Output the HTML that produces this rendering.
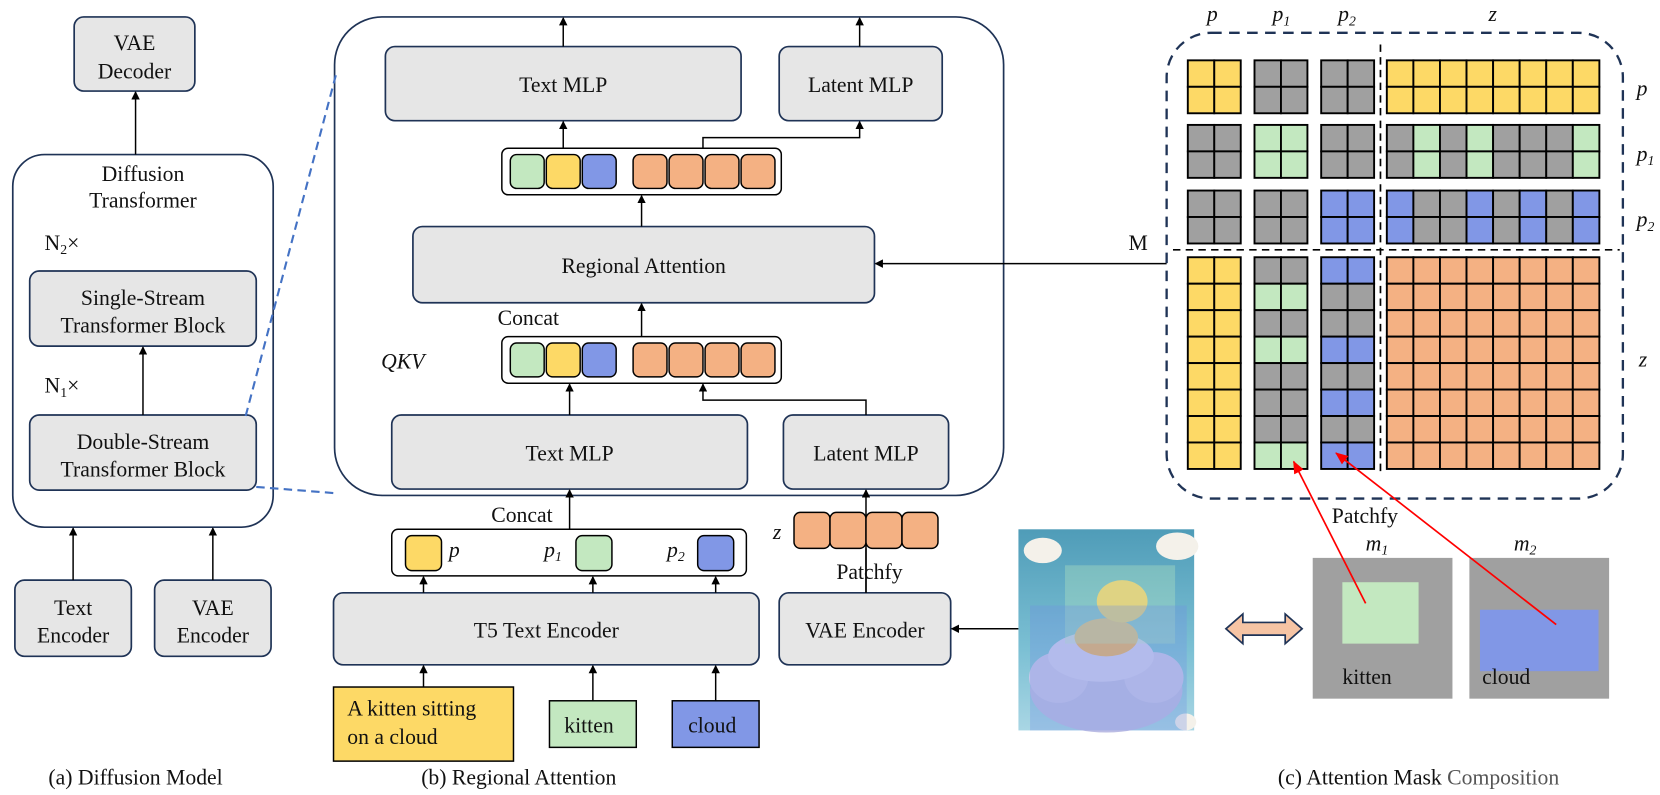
<!DOCTYPE html>
<html><head><meta charset="utf-8"><style>
html,body{margin:0;padding:0;background:#fff;}
svg{display:block;}
text{font-family:"Liberation Serif",serif;fill:#111;}
.i{font-style:italic;}
</style></head><body>
<svg width="1660" height="795" viewBox="0 0 1568 751" xmlns="http://www.w3.org/2000/svg">
<defs>
<marker id="ar" markerWidth="8" markerHeight="8" refX="7" refY="4" orient="auto" markerUnits="userSpaceOnUse"><path d="M0,0 L8,4 L0,8 Z" fill="#000"/></marker>
<marker id="rr" markerWidth="12" markerHeight="10" refX="11" refY="5" orient="auto" markerUnits="userSpaceOnUse"><path d="M0,0 L12,5 L0,10 Z" fill="#f00"/></marker>
<linearGradient id="sky" x1="0" y1="0" x2="0" y2="1"><stop offset="0" stop-color="#4f9cb8"/><stop offset="0.6" stop-color="#7cc0d4"/><stop offset="1" stop-color="#a9d6e4"/></linearGradient>
</defs>
<g stroke="#1f3356" stroke-width="1.6" fill="#e6e6e6">
<rect x="70" y="16" width="114" height="70" rx="9"/>
<rect x="12" y="146" width="246" height="352" rx="30" fill="#fff"/>
<rect x="28" y="256" width="214" height="71" rx="9"/>
<rect x="28" y="392" width="214" height="71" rx="9"/>
<rect x="14" y="548" width="110" height="72" rx="9"/>
<rect x="146" y="548" width="110" height="72" rx="9"/>
<rect x="316" y="16" width="632" height="452" rx="45" fill="#fff"/>
<rect x="364" y="44" width="336" height="70" rx="9"/>
<rect x="736" y="44" width="154" height="70" rx="9"/>
<rect x="390" y="214" width="436" height="72" rx="9"/>
<rect x="370" y="392" width="336" height="70" rx="9"/>
<rect x="740" y="392" width="156" height="70" rx="9"/>
<rect x="315" y="560" width="402" height="68" rx="9"/>
<rect x="736" y="560" width="162" height="68" rx="9"/>
</g>
<g stroke="#000" stroke-width="1.4" fill="none" marker-end="url(#ar)">
<line x1="128" y1="146" x2="128" y2="87"/>
<line x1="135" y1="392" x2="135" y2="328"/>
<line x1="69" y1="548" x2="69" y2="499"/>
<line x1="201" y1="548" x2="201" y2="499"/>
<line x1="532" y1="44" x2="532" y2="17"/>
<line x1="812" y1="44" x2="812" y2="17"/>
<line x1="532" y1="140" x2="532" y2="115"/>
<polyline points="664,140 664,130 812,130 812,115"/>
<line x1="606" y1="214" x2="606" y2="185"/>
<line x1="606" y1="318" x2="606" y2="287"/>
<line x1="538" y1="392" x2="538" y2="363"/>
<polyline points="818,392 818,378 664,378 664,363"/>
<line x1="538" y1="500" x2="538" y2="463"/>
<line x1="818" y1="560" x2="818" y2="463"/>
<line x1="400" y1="560" x2="400" y2="545"/>
<line x1="560" y1="560" x2="560" y2="545"/>
<line x1="676" y1="560" x2="676" y2="545"/>
<line x1="400" y1="649" x2="400" y2="629"/>
<line x1="560" y1="662" x2="560" y2="629"/>
<line x1="676" y1="662" x2="676" y2="629"/>
<line x1="962" y1="594" x2="899" y2="594"/>
<line x1="1102" y1="249" x2="827" y2="249"/>
</g>
<g stroke="#4472c4" stroke-width="2" stroke-dasharray="8,5">
<line x1="242" y1="460" x2="318" y2="466"/>
<line x1="232" y1="393" x2="318" y2="68"/>
</g>
<g stroke="#000" stroke-width="1.4">
<rect x="474" y="140" width="264" height="44" rx="6" fill="#fff"/>
<rect x="482" y="146" width="32" height="32" rx="6" fill="#c3e8c0"/>
<rect x="516" y="146" width="32" height="32" rx="6" fill="#fdd966"/>
<rect x="550" y="146" width="32" height="32" rx="6" fill="#8197e6"/>
<rect x="598" y="146" width="32" height="32" rx="6" fill="#f4b183"/>
<rect x="632" y="146" width="32" height="32" rx="6" fill="#f4b183"/>
<rect x="666" y="146" width="32" height="32" rx="6" fill="#f4b183"/>
<rect x="700" y="146" width="32" height="32" rx="6" fill="#f4b183"/>
<rect x="474" y="318" width="264" height="44" rx="6" fill="#fff"/>
<rect x="482" y="324" width="32" height="32" rx="6" fill="#c3e8c0"/>
<rect x="516" y="324" width="32" height="32" rx="6" fill="#fdd966"/>
<rect x="550" y="324" width="32" height="32" rx="6" fill="#8197e6"/>
<rect x="598" y="324" width="32" height="32" rx="6" fill="#f4b183"/>
<rect x="632" y="324" width="32" height="32" rx="6" fill="#f4b183"/>
<rect x="666" y="324" width="32" height="32" rx="6" fill="#f4b183"/>
<rect x="700" y="324" width="32" height="32" rx="6" fill="#f4b183"/>
<rect x="370" y="500" width="335" height="44" rx="6" fill="#fff"/>
<rect x="383" y="506" width="34" height="33" rx="6" fill="#fdd966"/>
<rect x="544" y="506" width="34" height="33" rx="6" fill="#c3e8c0"/>
<rect x="659" y="506" width="34" height="33" rx="6" fill="#8197e6"/>
<rect x="750" y="484" width="34" height="34" rx="6" fill="#f4b183"/>
<rect x="784" y="484" width="34" height="34" rx="6" fill="#f4b183"/>
<rect x="818" y="484" width="34" height="34" rx="6" fill="#f4b183"/>
<rect x="852" y="484" width="34" height="34" rx="6" fill="#f4b183"/>
<rect x="315" y="649" width="170" height="70" fill="#fdd966"/>
<rect x="519" y="662" width="82" height="44" fill="#c3e8c0"/>
<rect x="635" y="662" width="82" height="44" fill="#8197e6"/>
</g>
<line x1="818" y1="518" x2="818" y2="560" stroke="#000" stroke-width="1.4"/>
<g font-size="20.5" text-anchor="middle">
<text x="127" y="47">VAE</text><text x="127" y="74">Decoder</text>
<text x="135" y="171">Diffusion</text><text x="135" y="196">Transformer</text>
<text x="135" y="288">Single-Stream</text><text x="135" y="314">Transformer Block</text>
<text x="135" y="424">Double-Stream</text><text x="135" y="450">Transformer Block</text>
<text x="69" y="581">Text</text><text x="69" y="607">Encoder</text>
<text x="201" y="581">VAE</text><text x="201" y="607">Encoder</text>
<text x="128" y="741">(a) Diffusion Model</text>
<text x="532" y="87">Text MLP</text><text x="813" y="87">Latent MLP</text>
<text x="608" y="258">Regional Attention</text>
<text x="538" y="435">Text MLP</text><text x="818" y="435">Latent MLP</text>
<text x="516" y="602">T5 Text Encoder</text><text x="817" y="602">VAE Encoder</text>
<text x="490" y="741">(b) Regional Attention</text>
<text x="1340" y="741">(c) Attention Mask <tspan fill="#555">Composition</tspan></text>
</g>
<g font-size="20.5">
<text x="42" y="236">N<tspan font-size="13" dy="4">2</tspan><tspan dy="-4">×</tspan></text>
<text x="42" y="371">N<tspan font-size="13" dy="4">1</tspan><tspan dy="-4">×</tspan></text>
<text x="470" y="307">Concat</text>
<text x="464" y="493">Concat</text>
<text x="790" y="547">Patchfy</text>
<text x="1258" y="494">Patchfy</text>
<text x="1066" y="236">M</text>
<text x="328" y="676">A kitten sitting</text><text x="328" y="703">on a cloud</text>
<text x="533" y="692">kitten</text><text x="650" y="692">cloud</text>
<text x="1268" y="646">kitten</text><text x="1400" y="646">cloud</text>
</g>
<g font-size="20.5">
<text x="360" y="348" class="i" font-family="Liberation Mono">QKV</text>
<text x="424" y="526" class="i">p</text>
<text x="514" y="526" class="i">p<tspan font-size="13" dy="4">1</tspan></text>
<text x="630" y="526" class="i">p<tspan font-size="13" dy="4">2</tspan></text>
<text x="730" y="509" class="i">z</text>
<text x="1290" y="520" class="i">m<tspan font-size="13" dy="4">1</tspan></text>
<text x="1430" y="520" class="i">m<tspan font-size="13" dy="4">2</tspan></text>
<text x="1140" y="20" class="i">p</text>
<text x="1202" y="20" class="i">p<tspan font-size="13" dy="4">1</tspan></text>
<text x="1264" y="20" class="i">p<tspan font-size="13" dy="4">2</tspan></text>
<text x="1406" y="20" class="i">z</text>
<text x="1546" y="90" class="i">p</text>
<text x="1546" y="152" class="i">p<tspan font-size="13" dy="4">1</tspan></text>
<text x="1546" y="214" class="i">p<tspan font-size="13" dy="4">2</tspan></text>
<text x="1548" y="346" class="i">z</text>
</g>
<rect x="962" y="500" width="166" height="190" fill="url(#sky)"/>
<g fill="#f4f1ea">
<ellipse cx="985" cy="520" rx="18" ry="12"/><ellipse cx="1112" cy="516" rx="20" ry="13"/><ellipse cx="1120" cy="682" rx="10" ry="8"/>
</g>
<ellipse cx="1045" cy="652" rx="72" ry="40" fill="#bcbde4"/>
<ellipse cx="1000" cy="640" rx="28" ry="24" fill="#c7c6ea"/>
<ellipse cx="1090" cy="640" rx="28" ry="24" fill="#c7c6ea"/>
<ellipse cx="1040" cy="620" rx="50" ry="24" fill="#d0cff0"/>
<ellipse cx="1045" cy="602" rx="30" ry="18" fill="#e9b56a"/>
<ellipse cx="1060" cy="568" rx="24" ry="20" fill="#f5c863"/>
<rect x="1006" y="534" width="104" height="74" fill="#b8e8c0" opacity="0.35"/>
<rect x="973" y="572" width="148" height="118" fill="#6f8ee6" opacity="0.3"/>
<path d="M1158,594 L1174,580 L1174,588 L1214,588 L1214,580 L1230,594 L1214,608 L1214,600 L1174,600 L1174,608 Z" fill="#f6c4a4" stroke="#1f3356" stroke-width="1.6"/>
<rect x="1240" y="527" width="132" height="133" fill="#a0a0a0"/>
<rect x="1268" y="550" width="72" height="58" fill="#c3e8c0"/>
<rect x="1388" y="527" width="132" height="133" fill="#a0a0a0"/>
<rect x="1398" y="576" width="112" height="58" fill="#8197e6"/>
<text x="1268" y="646" font-size="20.5">kitten</text><text x="1400" y="646" font-size="20.5">cloud</text>
<rect x="1102" y="31" width="431" height="440" rx="42" fill="none" stroke="#1f3356" stroke-width="2.2" stroke-dasharray="10,7"/>
<g id="mat" stroke="#000" stroke-width="1.8"></g>
<line x1="1108" y1="236" x2="1530" y2="236" stroke="#000" stroke-width="1.6" stroke-dasharray="7,5"/>
<line x1="1304" y1="42" x2="1304" y2="446" stroke="#000" stroke-width="1.6" stroke-dasharray="7,5"/>
<g stroke="#f00" stroke-width="1.6" fill="none" marker-end="url(#rr)">
<line x1="1290" y1="570" x2="1222" y2="436"/>
<line x1="1470" y1="590" x2="1262" y2="428"/>
</g>
<script>
(function(){
var g=document.getElementById('mat'),ns='http://www.w3.org/2000/svg';
var Y='#fdd966',G='#a0a0a0',E='#c3e8c0',B='#8197e6',O='#f4b183';
var colX=[[1122,1147],[1185,1210],[1248,1273]],zx=1310,zw=25.1;
var rowsTop=[57,118,180],th=25,lowY=243,lh=25;
var p1z=[G,E,G,E,G,G,G,E],p2z=[B,G,G,B,G,B,G,B];
function r(x,y,w,h,c){var e=document.createElementNS(ns,'rect');e.setAttribute('x',x);e.setAttribute('y',y);e.setAttribute('width',w);e.setAttribute('height',h);e.setAttribute('fill',c);g.appendChild(e);}
for(var ri=0;ri<3;ri++)for(var s=0;s<2;s++){var y=rowsTop[ri]+s*th;
 for(var ci=0;ci<3;ci++){var c=(ri==ci)?[Y,E,B][ri]:G;for(var k=0;k<2;k++)r(colX[ci][k],y,25,th,c);}
 for(var k=0;k<8;k++){var c=ri==0?Y:(ri==1?p1z[k]:p2z[k]);r(zx+k*zw,y,zw,th,c);}}
for(var j=0;j<8;j++){var y=lowY+j*lh;
 for(var k=0;k<2;k++){r(colX[0][k],y,25,lh,Y);r(colX[1][k],y,25,lh,p1z[j]);r(colX[2][k],y,25,lh,p2z[j]);}
 for(var k=0;k<8;k++)r(zx+k*zw,y,zw,lh,O);}
})();
</script>
</svg>
</body></html>
